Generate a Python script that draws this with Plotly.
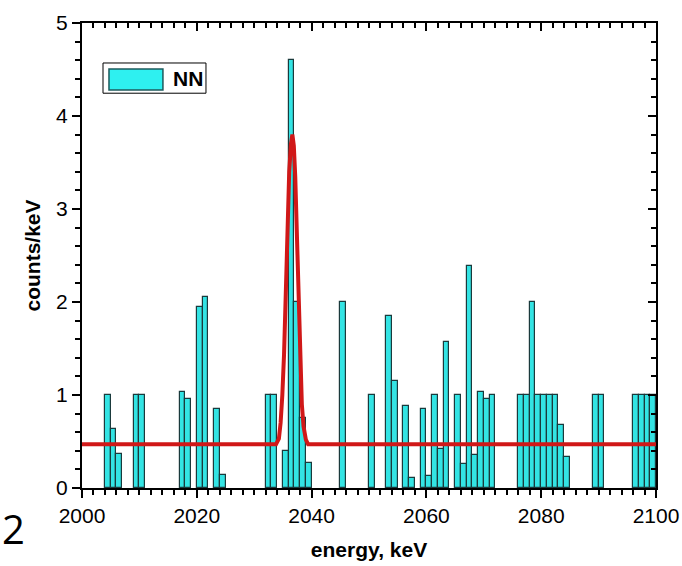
import plotly.graph_objects as go

# ---- data ----
bin_start = [2004, 2005, 2006, 2009, 2010, 2017, 2018, 2020, 2021, 2023, 2024,
             2032, 2033, 2035, 2036, 2037, 2038, 2039, 2045, 2050, 2053, 2054,
             2056, 2057, 2059, 2060, 2061, 2062, 2063, 2065, 2066, 2067, 2068,
             2069, 2070, 2071, 2076, 2077, 2078, 2079, 2080, 2081, 2082, 2083,
             2084, 2089, 2090, 2096, 2097, 2098, 2099]
counts = [1.0, 0.63, 0.37, 1.0, 1.0, 1.03, 0.96, 1.95, 2.05, 0.85, 0.14,
          1.0, 1.0, 0.40, 4.6, 2.0, 0.75, 0.27, 2.0, 1.0, 1.85, 1.15,
          0.88, 0.11, 0.85, 0.13, 1.0, 0.42, 1.57, 1.0, 0.26, 2.39, 0.36,
          1.03, 0.96, 1.0, 1.0, 1.0, 2.0, 1.0, 1.0, 1.0, 1.0, 0.68,
          0.33, 1.0, 1.0, 1.0, 1.0, 1.0, 1.0]
bin_width = 1.0

fit_energy = [2000, 2033.8, 2034.3, 2034.6, 2034.9, 2035.2, 2035.6, 2035.85, 2036.1,
              2036.4, 2036.65, 2036.9, 2037.15, 2037.45, 2037.7, 2037.95, 2038.3,
              2038.6, 2039.0, 2039.4, 2100]
fit_counts = [0.47, 0.47, 0.53, 0.70, 1.00, 1.44, 2.30, 2.90, 3.40,
              3.70, 3.80, 3.68, 3.35, 2.70, 2.10, 1.44, 0.90,
              0.66, 0.52, 0.47, 0.47]

x_ticks = [2000, 2020, 2040, 2060, 2080, 2100]
y_ticks = [0, 1, 2, 3, 4, 5]
legend_label = "NN"

FONT = "Liberation Sans, Arial, sans-serif"
BAR_FILL = "#33E4E4"
BAR_EDGE = "#1A3A3C"
RED = "#D01818"

fig = go.Figure()
fig.add_trace(go.Bar(
    x=[b + bin_width / 2 for b in bin_start], y=counts, width=bin_width,
    marker=dict(color=BAR_FILL, line=dict(color=BAR_EDGE, width=1.2)),
    name=legend_label, showlegend=False,
))
fig.add_trace(go.Scatter(
    x=fit_energy, y=fit_counts, mode="lines",
    line=dict(color=RED, width=4),
    showlegend=False,
))
# invisible trace to anchor mirror axes
fig.add_trace(go.Scatter(x=[2000], y=[0], xaxis="x2", yaxis="y2",
                         mode="markers", marker=dict(opacity=0), showlegend=False,
                         hoverinfo="skip"))

axis_common = dict(showline=True, linecolor="black", linewidth=2, automargin=False,
                   showgrid=False, zeroline=False, tickcolor="black", tickwidth=2)

fig.update_layout(
    width=682, height=566,
    margin=dict(l=82, r=26, t=23, b=78),
    paper_bgcolor="white", plot_bgcolor="white",
    bargap=0,
    font=dict(family=FONT, size=21, color="black"),
    xaxis=dict(range=[2000, 2100], tickvals=x_ticks, ticks="outside", ticklen=8,
               minor=dict(dtick=2, ticks="outside", ticklen=5, tickcolor="black", tickwidth=1.5),
               title=dict(text="<b>energy, keV</b>", font=dict(size=21), standoff=16),
               tickfont=dict(size=21),
               **axis_common),
    yaxis=dict(range=[0, 5], tickvals=y_ticks, ticks="outside", ticklen=8,
               minor=dict(dtick=0.2, ticks="outside", ticklen=5, tickcolor="black", tickwidth=1.5),
               title=dict(text="<b>counts/keV</b>", font=dict(size=21), standoff=10),
               tickfont=dict(size=21),
               **axis_common),
    xaxis2=dict(range=[2000, 2100], overlaying="x", side="top", anchor="y2",
                tickvals=x_ticks, ticks="inside", ticklen=8, showticklabels=False,
                minor=dict(dtick=2, ticks="inside", ticklen=5, tickcolor="black", tickwidth=1.5),
                **axis_common),
    yaxis2=dict(range=[0, 5], overlaying="y", side="right", anchor="x2",
                tickvals=y_ticks, ticks="inside", ticklen=8, showticklabels=False,
                minor=dict(dtick=0.2, ticks="inside", ticklen=5, tickcolor="black", tickwidth=1.5),
                **axis_common),
    showlegend=False,
)

# legend drawn as a box with a wide swatch
fig.add_shape(type="rect", xref="paper", yref="paper", x0=0.0366, x1=0.216,
              y0=0.849, y1=0.914, line=dict(color="black", width=1), fillcolor="white")
fig.add_shape(type="rect", xref="paper", yref="paper", x0=0.047, x1=0.141,
              y0=0.856, y1=0.901, line=dict(color="#1E5A5C", width=1.5), fillcolor="#2EF0F0")
fig.add_annotation(xref="paper", yref="paper", x=0.185, y=0.880, xanchor="center", yanchor="middle",
                   text="<b>" + legend_label + "</b>",
                   showarrow=False, font=dict(size=21, family=FONT, color="black"))

# slide remnant at bottom left
fig.add_annotation(xref="paper", yref="paper", x=-0.142, y=-0.088, xanchor="left", yanchor="middle",
                   text="2", showarrow=False, font=dict(size=40, family="Open Sans, sans-serif", color="black"))

fig.write_html("out.html", config={"displayModeBar": False},
               post_script="document.body.style.margin='0';")
